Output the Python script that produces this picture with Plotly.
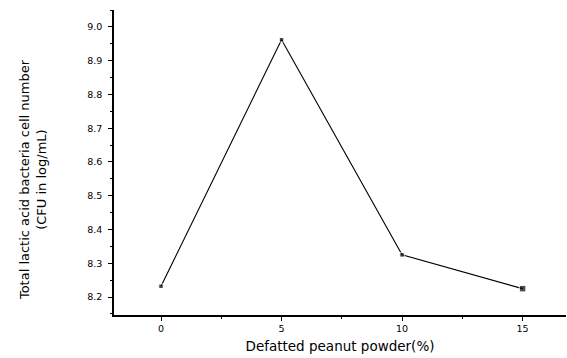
import plotly.graph_objects as go

x_vals = [0, 5, 10, 15]
y_vals = [8.232, 8.962, 8.325, 8.225]
marker_sizes = [4.5, 4.5, 4.5, 6.5]
x_ticks = [0, 5, 10, 15]
y_ticks = [8.2, 8.3, 8.4, 8.5, 8.6, 8.7, 8.8, 8.9, 9.0]
y_title = "Total lactic acid bacteria cell number<br>(CFU in log/mL)"
x_title = "Defatted peanut powder(%)"

fig = go.Figure()
fig.add_trace(go.Scatter(
    x=x_vals, y=y_vals, mode="lines+markers",
    line=dict(color="black", width=1.1),
    marker=dict(symbol="square", size=marker_sizes, color="black"),
    showlegend=False,
))

font = dict(family="DejaVu Sans, sans-serif", color="black")
fig.update_layout(
    width=567, height=358,
    margin=dict(l=114, r=1, t=10, b=43),
    paper_bgcolor="white", plot_bgcolor="white",
    font=font,
)
fig.update_xaxes(
    range=[-1.95, 16.8], tickvals=x_ticks, ticktext=[str(v) for v in x_ticks],
    showgrid=False, zeroline=False, showline=True, linecolor="black", linewidth=1.5,
    ticks="outside", ticklen=4, tickwidth=1, tickcolor="black",
    tickfont=dict(size=9.5, **font),
    minor=dict(tickvals=[2.5, 7.5, 12.5], ticks="outside", ticklen=2, tickcolor="black"),
    title=dict(text=x_title, font=dict(size=13.5, **font), standoff=8),
)
fig.update_yaxes(
    range=[8.147, 9.05], tickvals=y_ticks, ticktext=[f"{v:.1f}" for v in y_ticks],
    showgrid=False, zeroline=False, showline=True, linecolor="black", linewidth=1.5,
    ticks="outside", ticklen=4, tickwidth=1, tickcolor="black",
    tickfont=dict(size=9.5, **font), ticklabelstandoff=4,
    minor=dict(tickvals=[8.15, 8.25, 8.35, 8.45, 8.55, 8.65, 8.75, 8.85, 8.95, 9.05],
               ticks="outside", ticklen=2, tickcolor="black"),
)
fig.add_annotation(
    text=y_title, textangle=-90, xref="paper", yref="paper",
    x=-0.179, y=0.4426, xanchor="center", yanchor="middle", showarrow=False,
    font=dict(size=13, **font),
)
fig.write_html("out.html")
